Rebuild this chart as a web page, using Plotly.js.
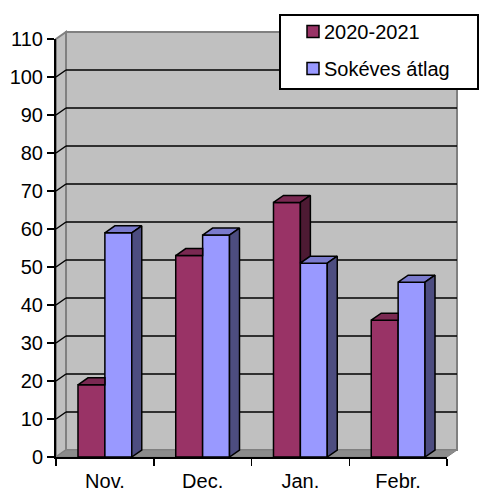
<!DOCTYPE html>
<html>
<head>
<meta charset="utf-8">
<script src="https://cdn.plot.ly/plotly-3.0.1.min.js"></script>
<style>html,body{margin:0;padding:0;background:#fff;}#chart{width:479px;height:491px;}</style>
</head>
<body>
<div id="chart"></div>
<script>
// ---- data ----
const categories = ['Nov.', 'Dec.', 'Jan.', 'Febr.'];
const seriesNames = ['2020-2021', 'Sokéves átlag'];
const values2020 = [19, 53, 67, 36];
const valuesAvg = [59, 58.4, 51, 46];
const yTickVals = [0, 10, 20, 30, 40, 50, 60, 70, 80, 90, 100, 110];

// ---- styling / geometry ----
const W = 479, H = 491;
const M = {l: 56, r: 22, t: 32, b: 34};
const DEPTH_X = 10, DEPTH_Y = 7;
const plotW = W - M.l - M.r;
const plotH = H - M.t - M.b;
const frontW = plotW - DEPTH_X;
const frontH = plotH - DEPTH_Y;
const xRange = [-0.5, categories.length - 0.5];
const yRange = [0, 110];
const dxu = DEPTH_X / (frontW / (xRange[1] - xRange[0]));
const dyu = DEPTH_Y / (frontH / (yRange[1] - yRange[0]));
const BARGAP = 0.45;
const bw = (1 - BARGAP) / 2;
const FONT = 'Liberation Sans, Arial, sans-serif';
const colors = {
  red: {front: '#993366', top: '#7a2952', side: '#4d1a33'},
  blue: {front: '#9999ff', top: '#7a7acc', side: '#4d4d80'}
};
const idx = categories.map((c, i) => i);

function polyTrace(polys, color) {
  const x = [], y = [];
  polys.forEach(p => {
    p.forEach(pt => { x.push(pt[0]); y.push(pt[1]); });
    x.push(p[0][0]); y.push(p[0][1]);
    x.push(null); y.push(null);
  });
  return {type: 'scatter', mode: 'lines', x: x, y: y, fill: 'toself', fillcolor: color,
    line: {color: '#000', width: 1.5}, showlegend: false, hoverinfo: 'skip', connectgaps: false};
}

const redTop = [], redSide = [], blueTop = [], blueSide = [];
idx.forEach(i => {
  const r = values2020[i], b = valuesAvg[i];
  const rl = i - bw, rr = i;
  if (b >= r) {
    redTop.push([[rl, r], [rr, r], [rr, r + dyu], [rl + dxu, r + dyu]]);
  } else {
    redTop.push([[rl, r], [rr, r], [rr + dxu, r + dyu], [rl + dxu, r + dyu]]);
    redSide.push([[rr, b], [rr, r], [rr + dxu, r + dyu], [rr + dxu, b + dyu]]);
  }
  const bl = i, br = i + bw;
  blueTop.push([[bl, b], [br, b], [br + dxu, b + dyu], [bl + dxu, b + dyu]]);
  blueSide.push([[br, 0], [br, b], [br + dxu, b + dyu], [br + dxu, dyu]]);
});

const traces = [
  {type: 'bar', name: seriesNames[0], x: idx, y: values2020, legendgroup: 'a',
   marker: {color: colors.red.front, line: {color: '#000', width: 1.5}}, hoverinfo: 'skip'},
  {type: 'bar', name: seriesNames[1], x: idx, y: valuesAvg, legendgroup: 'b',
   marker: {color: colors.blue.front, line: {color: '#000', width: 1.5}}, hoverinfo: 'skip'},
  polyTrace(redTop, colors.red.top),
  polyTrace(redSide, colors.red.side),
  polyTrace(blueTop, colors.blue.top),
  polyTrace(blueSide, colors.blue.side)
];

const px = DEPTH_X / plotW, py = DEPTH_Y / plotH;
const shapes = [
  // back wall
  {type: 'rect', xref: 'paper', yref: 'paper', x0: px, x1: 1, y0: py, y1: 1,
   fillcolor: '#c0c0c0', line: {color: '#808080', width: 2}, layer: 'below'},
  // left wall
  {type: 'path', xref: 'paper', yref: 'paper',
   path: `M0,0 L0,${frontH / plotH} L${px},1 L${px},${py} Z`,
   fillcolor: '#c0c0c0', line: {color: '#808080', width: 2}, layer: 'below'},
  // floor
  {type: 'path', xref: 'paper', yref: 'paper',
   path: `M0,0 L${frontW / plotW},0 L1,${py} L${px},${py} Z`,
   fillcolor: '#8c8c8c', line: {color: '#808080', width: 1}, layer: 'below'}
];
yTickVals.slice(1, -1).forEach(v => {
  // gridline on the left wall
  shapes.push({type: 'line', xref: 'paper', yref: 'y', x0: 0, x1: px, y0: v, y1: v + dyu,
    line: {color: '#000', width: 1.5}, layer: 'below'});
  // gridline on the back wall
  shapes.push({type: 'line', xref: 'paper', yref: 'y', x0: px, x1: 1, y0: v + dyu, y1: v + dyu,
    line: {color: '#000', width: 1.5}, layer: 'below'});
});
shapes.push({type: 'rect', xref: 'paper', yref: 'paper',
  x0: (280 - M.l) / plotW, x1: (478 - M.l) / plotW,
  y0: (H - M.b - 89) / plotH, y1: (H - M.b - 15) / plotH,
  fillcolor: '#fff', line: {color: '#000', width: 2}, layer: 'above'});

const layout = {
  width: W, height: H,
  margin: M,
  paper_bgcolor: '#fff', plot_bgcolor: 'rgba(0,0,0,0)',
  font: {family: FONT, size: 20, color: '#000'},
  barmode: 'group', bargap: BARGAP, bargroupgap: 0,
  showlegend: true,
  legend: {x: (284 - M.l) / plotW, xanchor: 'left', y: (H - M.b - 12) / plotH, yanchor: 'top',
    bgcolor: 'rgba(0,0,0,0)', borderwidth: 0, font: {family: FONT, size: 20, color: '#000'},
    tracegroupgap: 8, itemclick: false},
  xaxis: {domain: [0, frontW / plotW], range: xRange, showline: true, linecolor: '#000', linewidth: 2,
    tickmode: 'array', tickvals: idx, ticktext: categories, ticks: '', showgrid: false, zeroline: false,
    ticklabelstandoff: 5,
    minor: {tickmode: 'array', tickvals: idx.map(i => i - 0.5).concat([categories.length - 0.5]),
      ticks: 'outside', ticklen: 7, tickwidth: 1.5, tickcolor: '#000', showgrid: false},
    tickfont: {family: FONT, size: 20, color: '#000'}, fixedrange: true},
  yaxis: {domain: [0, frontH / plotH], range: yRange, showline: true, linecolor: '#000', linewidth: 2,
    tickmode: 'array', tickvals: yTickVals, ticks: 'outside', ticklen: 7, tickwidth: 1.5, tickcolor: '#000',
    showgrid: false, zeroline: false, tickfont: {family: FONT, size: 20, color: '#000'}, fixedrange: true},
  shapes: shapes
};

Plotly.newPlot('chart', traces, layout, {staticPlot: true, displayModeBar: false}).then(() => {
  // move legend swatches closer to their labels, as in the reference
  document.querySelectorAll('#chart .legend g.legendpoints').forEach(g => {
    g.setAttribute('transform', 'translate(9,0)');
  });
});
</script>
</body>
</html>
